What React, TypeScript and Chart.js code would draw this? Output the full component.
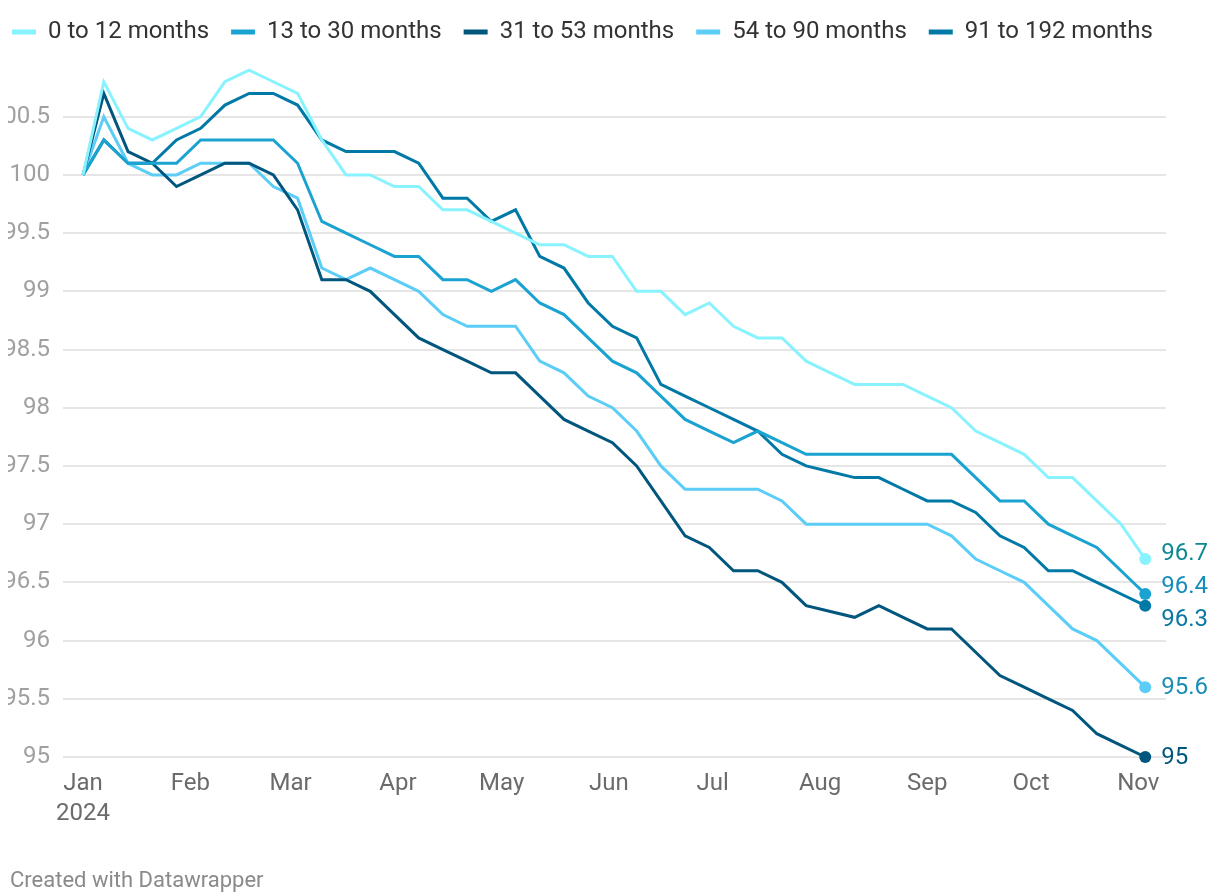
import React, { useEffect, useRef } from "react";
import { Chart, registerables } from "chart.js";

Chart.register(...registerables);

// ---------- data ----------
const DATES = [
  "2024-01-01", "2024-01-07", "2024-01-14", "2024-01-21", "2024-01-28",
  "2024-02-04", "2024-02-11", "2024-02-18", "2024-02-25", "2024-03-03",
  "2024-03-10", "2024-03-17", "2024-03-24", "2024-03-31", "2024-04-07",
  "2024-04-14", "2024-04-21", "2024-04-28", "2024-05-05", "2024-05-12",
  "2024-05-19", "2024-05-26", "2024-06-02", "2024-06-09", "2024-06-16",
  "2024-06-23", "2024-06-30", "2024-07-07", "2024-07-14", "2024-07-21",
  "2024-07-28", "2024-08-04", "2024-08-11", "2024-08-18", "2024-08-25",
  "2024-09-01", "2024-09-08", "2024-09-15", "2024-09-22", "2024-09-29",
  "2024-10-06", "2024-10-13", "2024-10-20", "2024-10-27", "2024-11-03",
];

const SERIES_NAMES = [
  "0 to 12 months",
  "13 to 30 months",
  "31 to 53 months",
  "54 to 90 months",
  "91 to 192 months",
];

const S_0_12 = [
  100, 100.8, 100.4, 100.3, 100.4, 100.5, 100.8, 100.9, 100.8, 100.7,
  100.3, 100.0, 100.0, 99.9, 99.9, 99.7, 99.7, 99.6, 99.5, 99.4,
  99.4, 99.3, 99.3, 99.0, 99.0, 98.8, 98.9, 98.7, 98.6, 98.6,
  98.4, 98.3, 98.2, 98.2, 98.2, 98.1, 98.0, 97.8, 97.7, 97.6,
  97.4, 97.4, 97.2, 97.0, 96.7,
];
const S_13_30 = [
  100, 100.3, 100.1, 100.1, 100.1, 100.3, 100.3, 100.3, 100.3, 100.1,
  99.6, 99.5, 99.4, 99.3, 99.3, 99.1, 99.1, 99.0, 99.1, 98.9,
  98.8, 98.6, 98.4, 98.3, 98.1, 97.9, 97.8, 97.7, 97.8, 97.7,
  97.6, 97.6, 97.6, 97.6, 97.6, 97.6, 97.6, 97.4, 97.2, 97.2,
  97.0, 96.9, 96.8, 96.6, 96.4,
];
const S_31_53 = [
  100, 100.7, 100.2, 100.1, 99.9, 100.0, 100.1, 100.1, 100.0, 99.7,
  99.1, 99.1, 99.0, 98.8, 98.6, 98.5, 98.4, 98.3, 98.3, 98.1,
  97.9, 97.8, 97.7, 97.5, 97.2, 96.9, 96.8, 96.6, 96.6, 96.5,
  96.3, 96.25, 96.2, 96.3, 96.2, 96.1, 96.1, 95.9, 95.7, 95.6,
  95.5, 95.4, 95.2, 95.1, 95.0,
];
const S_54_90 = [
  100, 100.5, 100.1, 100.0, 100.0, 100.1, 100.1, 100.1, 99.9, 99.8,
  99.2, 99.1, 99.2, 99.1, 99.0, 98.8, 98.7, 98.7, 98.7, 98.4,
  98.3, 98.1, 98.0, 97.8, 97.5, 97.3, 97.3, 97.3, 97.3, 97.2,
  97.0, 97.0, 97.0, 97.0, 97.0, 97.0, 96.9, 96.7, 96.6, 96.5,
  96.3, 96.1, 96.0, 95.8, 95.6,
];
const S_91_192 = [
  100, 100.3, 100.1, 100.1, 100.3, 100.4, 100.6, 100.7, 100.7, 100.6,
  100.3, 100.2, 100.2, 100.2, 100.1, 99.8, 99.8, 99.6, 99.7, 99.3,
  99.2, 98.9, 98.7, 98.6, 98.2, 98.1, 98.0, 97.9, 97.8, 97.6,
  97.5, 97.45, 97.4, 97.4, 97.3, 97.2, 97.2, 97.1, 96.9, 96.8,
  96.6, 96.6, 96.5, 96.4, 96.3,
];

const MONTH_TICKS = [
  "2024-01-01", "2024-02-01", "2024-03-01", "2024-04-01", "2024-05-01",
  "2024-06-01", "2024-07-01", "2024-08-01", "2024-09-01", "2024-10-01",
  "2024-11-01",
];
const MONTH_LABELS = ["Jan", "Feb", "Mar", "Apr", "May", "Jun", "Jul", "Aug", "Sep", "Oct", "Nov"];
const YEAR_LABEL = "2024";
const Y_TICKS = [95, 95.5, 96, 96.5, 97, 97.5, 98, 98.5, 99, 99.5, 100, 100.5];

// ---------- styles ----------
const LINE_COLORS = ["#89f2ff", "#1aa3d1", "#00567d", "#5bcdf7", "#0079a6"];
const LABEL_COLORS = ["#0f8893", "#168dbb", "#00567d", "#1a8cb5", "#0a78a3"];
const FONT = "Roboto, 'Noto Sans', sans-serif";
const CLIP_LEFT = 8; // page x where the chart's visible box begins
const CANVAS_LEFT = -13; // page x of canvas origin
const CANVAS_W = 1220 - CANVAS_LEFT;
const CANVAS_H = 894;
const PLOT_LEFT = 63; // page x
const PLOT_RIGHT = 1166; // page x
const PLOT_TOP = 66;
const PLOT_BOTTOM = 757;
const X_AXIS_H = 72;
const LEGEND_TOP = -2;
const LEGEND_PAD = 22;
const LEGEND_LEFT = 12 - CANVAS_LEFT - LEGEND_PAD; // canvas x of legend box

const dayOf = (s: string) => {
  const [y, m, d] = s.split("-").map(Number);
  return (Date.UTC(y, m - 1, d) - Date.UTC(2024, 0, 1)) / 86400000;
};

const legendFitPlugin = {
  id: "legendFit",
  beforeInit(chart: any) {
    const legend = chart.legend;
    if (!legend) return;
    const orig = legend.fit;
    legend.fit = function () {
      this.maxWidth = Math.max(this.maxWidth || 0, 1400);
      orig.call(this);
      this.height = PLOT_TOP - LEGEND_TOP;
    };
  },
  afterLayout(chart: any) {
    const legend = chart.legend;
    if (!legend) return;
    legend.width = 1400;
    legend.right = legend.left + 1400;
  },
};

const endLabelsPlugin = {
  id: "endLabels",
  afterDatasetsDraw(chart: any) {
    const ctx = chart.ctx;
    const items: any[] = [];
    chart.data.datasets.forEach((ds: any, i: number) => {
      const meta = chart.getDatasetMeta(i);
      const pt = meta.data[meta.data.length - 1];
      if (!pt) return;
      const v = ds.data[ds.data.length - 1].y;
      items.push({ x: pt.x, y: pt.y, want: pt.y, text: String(v), color: LABEL_COLORS[i] });
    });
    const gap = 33;
    items.sort((a, b) => a.want - b.want);
    const groups: any[] = items.map((it) => ({ members: [it], center: it.want }));
    let changed = true;
    while (changed) {
      changed = false;
      for (let g = 1; g < groups.length; g++) {
        const a = groups[g - 1];
        const b = groups[g];
        const aBottom = a.center + ((a.members.length - 1) / 2) * gap;
        const bTop = b.center - ((b.members.length - 1) / 2) * gap;
        if (bTop - aBottom < gap) {
          const members = a.members.concat(b.members);
          const center = members.reduce((s: number, m: any) => s + m.want, 0) / members.length;
          groups.splice(g - 1, 2, { members, center });
          changed = true;
          break;
        }
      }
    }
    groups.forEach((g) => {
      g.members.forEach((m: any, k: number) => {
        m.ly = g.center + (k - (g.members.length - 1) / 2) * gap;
      });
    });
    ctx.save();
    ctx.font = `24px ${FONT}`;
    ctx.textAlign = "left";
    ctx.textBaseline = "middle";
    items.forEach((it) => {
      ctx.fillStyle = it.color;
      ctx.fillText(it.text, it.x + 16, it.ly + 1);
    });
    ctx.restore();
  },
};

export default function App() {
  const ref = useRef<HTMLCanvasElement | null>(null);

  useEffect(() => {
    if (!ref.current) return;
    document.body.style.overflow = "hidden";
    const seriesList = [S_0_12, S_13_30, S_31_53, S_54_90, S_91_192];
    const xs = DATES.map(dayOf);
    const datasets = seriesList.map((s, i) => ({
      label: SERIES_NAMES[i],
      data: s.map((v, j) => ({ x: xs[j], y: v })),
      borderColor: LINE_COLORS[i],
      backgroundColor: LINE_COLORS[i],
      borderWidth: 3,
      tension: 0,
      clip: false as any,
      pointRadius: (c: any) => (c.dataIndex === s.length - 1 ? 6 : 0),
      pointHoverRadius: 0,
      pointBorderWidth: 0,
      pointBackgroundColor: LINE_COLORS[i],
    }));

    const chart = new Chart(ref.current, {
      type: "line",
      data: { datasets },
      plugins: [legendFitPlugin, endLabelsPlugin],
      options: {
        animation: false,
        responsive: false,
        devicePixelRatio: 1,
        layout: {
          padding: {
            left: LEGEND_LEFT,
            right: 1220 - PLOT_RIGHT,
            top: LEGEND_TOP,
            bottom: CANVAS_H - PLOT_BOTTOM - X_AXIS_H,
          },
        },
        plugins: {
          tooltip: { enabled: false },
          legend: {
            position: "top",
            align: "start",
            labels: {
              boxWidth: 24,
              boxHeight: 5,
              padding: LEGEND_PAD,
              color: "#333333",
              font: { family: FONT, size: 24 },
              useBorderRadius: true,
              borderRadius: 2.5,
              generateLabels: (chart: any) =>
                chart.data.datasets.map((ds: any, i: number) => ({
                  text: ds.label,
                  fillStyle: ds.borderColor,
                  strokeStyle: ds.borderColor,
                  lineWidth: 0,
                  hidden: false,
                  datasetIndex: i,
                  fontColor: "#333333",
                })),
            },
          },
        },
        scales: {
          x: {
            type: "linear",
            min: -5.8,
            max: 313,
            grid: { display: false, drawTicks: false },
            border: { display: false },
            afterBuildTicks: (scale: any) => {
              scale.ticks = MONTH_TICKS.map((d) => ({ value: dayOf(d) }));
            },
            afterFit: (scale: any) => {
              scale.height = X_AXIS_H;
            },
            ticks: {
              autoSkip: false,
              maxRotation: 0,
              minRotation: 0,
              padding: 12,
              color: "#6b6b6b",
              font: { family: FONT, size: 24, lineHeight: 1.25 },
              callback: (value: any) => {
                const idx = MONTH_TICKS.findIndex((d) => dayOf(d) === value);
                if (idx < 0) return "";
                return idx === 0 ? [MONTH_LABELS[0], YEAR_LABEL] : MONTH_LABELS[idx];
              },
            },
          },
          y: {
            type: "linear",
            min: 95,
            max: 95 + (PLOT_BOTTOM - PLOT_TOP) / 116.42,
            grid: { color: "#e6e6e6", lineWidth: 2, drawTicks: false },
            border: { display: false },
            afterBuildTicks: (scale: any) => {
              scale.ticks = Y_TICKS.map((v) => ({ value: v }));
            },
            afterFit: (scale: any) => {
              scale.width = PLOT_LEFT - CANVAS_LEFT - LEGEND_LEFT;
            },
            ticks: {
              padding: 13,
              color: "#a0a0a0",
              font: { family: FONT, size: 24 },
              callback: (v: any) => String(v),
            },
          },
        },
      } as any,
    });
    return () => chart.destroy();
  }, []);

  return (
    <div
      style={{
        position: "absolute",
        left: CLIP_LEFT,
        top: 0,
        width: 1220 - CLIP_LEFT,
        height: CANVAS_H,
        overflow: "hidden",
      }}
    >
      <canvas
        ref={ref}
        width={CANVAS_W}
        height={CANVAS_H}
        style={{ display: "block", position: "absolute", left: CANVAS_LEFT - CLIP_LEFT, top: 0 }}
      />
      <div
        style={{
          position: "absolute",
          left: 10 - CLIP_LEFT,
          top: 867,
          fontFamily: FONT,
          fontSize: 22,
          color: "#8a8a8a",
          whiteSpace: "nowrap",
        }}
      >
        Created with Datawrapper
      </div>
    </div>
  );
}
